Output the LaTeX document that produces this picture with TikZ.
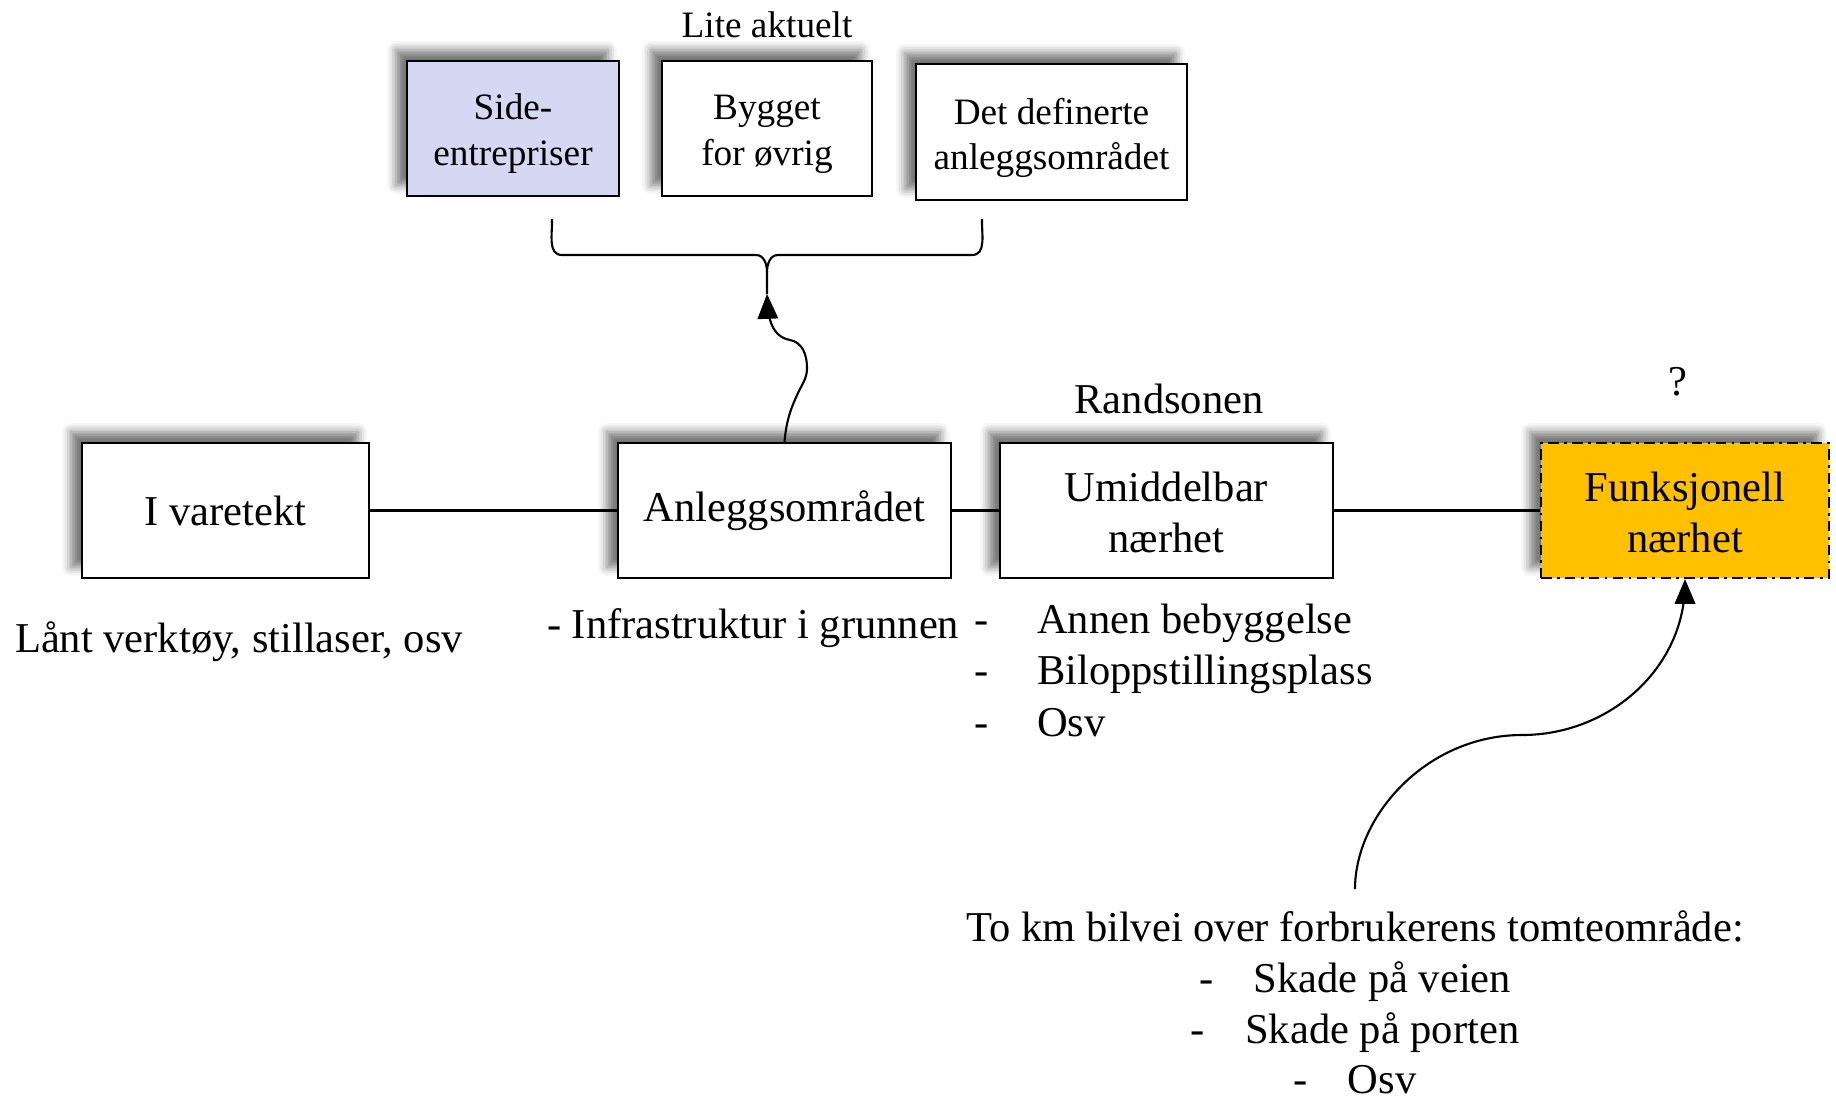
\documentclass[tikz,border=0pt]{standalone}
\usepackage{fontspec}
\setmainfont{Liberation Serif}
\usetikzlibrary{arrows,shadows.blur}
\definecolor{lavender}{HTML}{D5D7F3}
\definecolor{amber}{HTML}{FFC000}
\newcommand{\bigtxt}{\fontsize{12.1}{14.6}\selectfont}
\newcommand{\smalltxt}{\fontsize{10.6}{13}\selectfont}
\newcommand{\up}[1]{\rule{0pt}{#1}}

\begin{document}
\begin{tikzpicture}[>=triangle 45, line width=0.6pt,
  zone/.style={draw, fill=white, minimum width=#1, minimum height=1.35cm,
    inner sep=0pt, align=center, font=\bigtxt,
    blur shadow={shadow xshift=-1.1mm, shadow yshift=1.1mm,
      shadow blur radius=0.9mm, shadow opacity=55}},
  subzone/.style={zone=#1, font=\smalltxt},
  note/.style={inner sep=0pt, font=\bigtxt}]
\useasboundingbox (0,0) rectangle (18.36,-10.99);
% main row
\node[zone=2.87cm] (varetekt) at (2.255,-5.105) {I varetekt};
\node[zone=3.33cm] (anlegg) at (7.845,-5.105) {Anleggsområdet};
\node[zone=3.33cm] (umid) at (11.665,-5.105) {\up{0.34cm}Umiddelbar\\nærhet};
\node[zone=2.88cm, fill=amber, dash pattern=on 3pt off 1.5pt on 0.8pt off 1.5pt]
  (funk) at (16.85,-5.105) {\up{0.34cm}Funksjonell\\nærhet};
\draw (varetekt) -- (anlegg);
\draw (anlegg) -- (umid);
\draw (umid) -- (funk);
% top row
\node[subzone=2.12cm, fill=lavender] (side) at (5.13,-1.285)
  {\up{0.36cm}Side-\\entrepriser};
\node[subzone=2.10cm] (bygget) at (7.67,-1.285) {\up{0.36cm}Bygget\\for øvrig};
\node[subzone=2.71cm, minimum height=1.36cm] (definert) at (10.515,-1.32)
  {\up{0.38cm}Det definerte\\anleggsområdet};
\node[note, font=\smalltxt] (lite) at (7.67,-0.25) {Lite aktuelt};
% brace
\coordinate (bracetip) at (7.67,-2.94);
\draw (5.52,-2.19) to[out=-88,in=180] (5.62,-2.55) -- (7.56,-2.55)
  to[out=0,in=90] (7.67,-2.72) -- (bracetip);
\draw (9.82,-2.19) to[out=-92,in=0] (9.72,-2.55) -- (7.78,-2.55)
  to[out=180,in=90] (7.67,-2.72);
\draw[->] (anlegg.north) to[out=85,in=-115] (7.98,-3.93)
  to[out=65,in=-90] (8.07,-3.68) to[out=90,in=-10] (7.90,-3.40)
  to[out=170,in=-88] (bracetip);
% labels
\node[note] (rand) at (11.69,-3.99) {Randsonen};
\node[note] (spm) at (16.78,-3.82) {?};
\node[note, anchor=base west] (lant) at (0.14,-6.52) {Lånt verktøy, stillaser, osv};
\node[note, anchor=base west] (infra) at (5.46,-6.38) {- Infrastruktur i grunnen};
\node[note, anchor=north west, align=left] (randlist) at (9.73,-6.03)
  {\makebox[0.63cm][l]{-}Annen bebyggelse\\
   \makebox[0.63cm][l]{-}Biloppstillingsplass\\
   \makebox[0.63cm][l]{-}Osv};
\node[note, anchor=north, align=center, font=\fontsize{12.1}{14.4}\selectfont]
  (vei) at (13.55,-9.10)
  {To km bilvei over forbrukerens tomteområde:\\
   -\hspace{0.95em}Skade på veien\\
   -\hspace{0.95em}Skade på porten\\
   -\hspace{0.95em}Osv};
\coordinate (bend) at (15.22,-7.35);
\draw[->, shorten <=2.1mm] (vei.north) to[out=90,in=180] (bend)
  to[out=0,in=-90] (funk.south);
\end{tikzpicture}
\end{document}
